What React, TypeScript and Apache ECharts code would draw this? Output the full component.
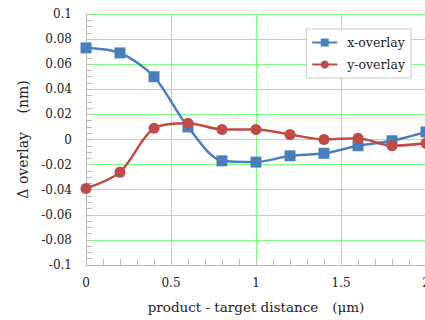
import React, { useEffect, useRef } from "react";
import * as echarts from "echarts";

const xValues = [0, 0.2, 0.4, 0.6, 0.8, 1.0, 1.2, 1.4, 1.6, 1.8, 2.0];
const xOverlay = [0.073, 0.069, 0.05, 0.01, -0.017, -0.018, -0.013, -0.011, -0.005, -0.001, 0.006];
const yOverlay = [-0.039, -0.026, 0.009, 0.013, 0.008, 0.008, 0.004, 0.0, 0.001, -0.005, -0.003];
const seriesNames = ["x-overlay", "y-overlay"];

const FONT = "'DejaVu Serif', 'Liberation Serif', serif";

export default function App() {
  const ref = useRef<HTMLDivElement>(null);
  useEffect(() => {
    if (!ref.current) return;
    const chart = echarts.init(ref.current, null, { renderer: "svg" });
    const pair = (ys: number[]) => xValues.map((x, i) => [x, ys[i]]);
    chart.setOption({
      animation: false,
      textStyle: { fontFamily: FONT },
      grid: { left: 86, right: -1, top: 14, bottom: 55, outerBoundsMode: "none", containLabel: false },
      legend: {
        right: 14,
        top: 29,
        orient: "vertical",
        backgroundColor: "#fff",
        borderColor: "#c8c8c8",
        borderWidth: 1,
        padding: [7, 6, 7, 5],
        itemGap: 9,
        itemWidth: 25,
        itemHeight: 10,
        textStyle: { fontFamily: FONT, fontSize: 12.5, color: "#222", padding: [0, 0, 0, 5] },
        data: seriesNames,
      },
      xAxis: {
        type: "value",
        min: 0,
        max: 2,
        interval: 0.5,
        name: "product - target distance\u3000(\u03bcm)",
        nameLocation: "middle",
        nameGap: 35,
        nameTextStyle: { fontFamily: FONT, fontSize: 13.5, color: "#222" },
        axisLine: { show: true, onZero: false, lineStyle: { color: "#bbb" } },
        axisTick: { show: true, inside: true, length: 6, lineStyle: { color: "#bbb" } },
        minorTick: { show: true, splitNumber: 5, length: 6, lineStyle: { color: "#bbb" } },
        axisLabel: {
          fontFamily: FONT,
          fontSize: 12,
          color: "#222",
          margin: 12,
          formatter: (v: number) => String(v),
        },
        splitLine: { show: true, lineStyle: { color: "#7fff7f", width: 1 } },
      },
      yAxis: {
        type: "value",
        min: -0.1,
        max: 0.1,
        interval: 0.02,
        name: "\u0394 overlay\u3000 (nm)",
        nameLocation: "middle",
        nameGap: 50,
        nameTextStyle: { fontFamily: FONT, fontSize: 14, color: "#222" },
        axisLine: { show: true, lineStyle: { color: "#bbb" } },
        axisTick: { show: true, inside: true, length: 6, lineStyle: { color: "#bbb" } },
        minorTick: { show: true, splitNumber: 4, length: 6, lineStyle: { color: "#bbb" } },
        axisLabel: {
          fontFamily: FONT,
          fontSize: 12,
          color: "#222",
          margin: 14,
          formatter: (v: number) => String(Math.round(v * 100) / 100),
        },
        splitLine: { show: true, lineStyle: { color: "#7fff7f", width: 1 } },
      },
      series: [
        {
          name: seriesNames[0],
          type: "line",
          smooth: 0.3,
          data: pair(xOverlay),
          symbol: "rect",
          symbolSize: 11,
          lineStyle: { color: "#4a7ebb", width: 2.5 },
          itemStyle: { color: "#4a7ebb" },
        },
        {
          name: seriesNames[1],
          type: "line",
          smooth: 0.3,
          data: pair(yOverlay),
          symbol: "circle",
          symbolSize: 11,
          lineStyle: { color: "#be4b48", width: 2.5 },
          itemStyle: { color: "#be4b48" },
        },
      ],
    });
    return () => chart.dispose();
  }, []);
  return <div ref={ref} style={{ width: 425, height: 320, position: "absolute", left: 0, top: 0 }} />;
}
